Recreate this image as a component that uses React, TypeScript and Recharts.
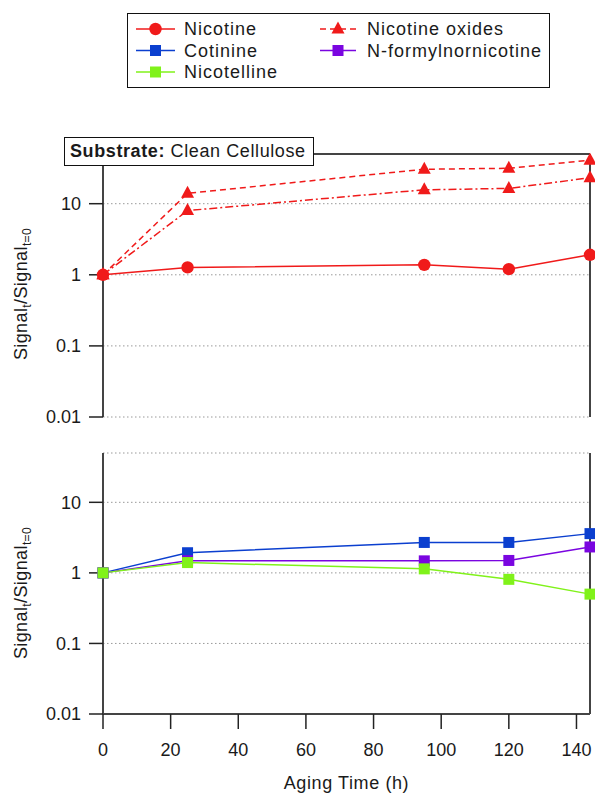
import React from 'react';
import { LineChart, Line, XAxis, YAxis, CartesianGrid, ReferenceLine } from 'recharts';

const FONT = "Arial, 'Liberation Sans', sans-serif";

// ---- data ----
const timeH = [0, 25, 95, 120, 144];
const xTicks = [0, 20, 40, 60, 80, 100, 120, 140];
const yTicks = [0.01, 0.1, 1, 10];

const nicotine = [1, 1.27, 1.38, 1.2, 1.91];
const nicotineOxidesA = [1, 14, 30.5, 31.5, 41];
const nicotineOxidesB = [1, 8, 15.7, 16.4, 23.2];

const cotinine = [1, 1.93, 2.7, 2.7, 3.6];
const nFormylnornicotine = [1, 1.49, 1.48, 1.5, 2.33];
const nicotelline = [1, 1.4, 1.14, 0.81, 0.5];

const topData = timeH.map((t, i) => ({
  t,
  nicotine: nicotine[i],
  oxA: nicotineOxidesA[i],
  oxB: nicotineOxidesB[i],
}));
const bottomData = timeH.map((t, i) => ({
  t,
  cotinine: cotinine[i],
  nfn: nFormylnornicotine[i],
  nicotelline: nicotelline[i],
}));

const RED = '#f01a1a';
const BLUE = '#0b3fcf';
const PURPLE = '#7a05e0';
const GREEN = '#80f21a';
const AXIS = '#444';
const TEXT = '#1a1a1a';

const legendItems = [
  { name: 'Nicotine', color: RED, shape: 'circle', dash: undefined as string | undefined, col: 0, row: 0 },
  { name: 'Nicotine oxides', color: RED, shape: 'triangle', dash: '6 4', col: 1, row: 0 },
  { name: 'Cotinine', color: BLUE, shape: 'square', dash: undefined, col: 0, row: 1 },
  { name: 'N-formylnornicotine', color: PURPLE, shape: 'square', dash: undefined, col: 1, row: 1 },
  { name: 'Nicotelline', color: GREEN, shape: 'square', dash: undefined, col: 0, row: 2 },
];

// ---- markers ----
const Marker = (shape: string, color: string, cx: number, cy: number, key?: any) => {
  if (shape === 'circle') return <circle key={key} cx={cx} cy={cy} r={6.2} fill={color} />;
  if (shape === 'triangle')
    return (
      <path
        key={key}
        d={`M${cx},${cy - 7.5} L${cx + 6.5},${cy + 4.5} L${cx - 6.5},${cy + 4.5} Z`}
        fill={color}
      />
    );
  return <rect key={key} x={cx - 5.5} y={cy - 5.5} width={11} height={11} fill={color} />;
};

const dotFn = (shape: string, color: string) => (props: any) => {
  const { cx, cy, index } = props;
  if (cx == null || cy == null) return <g key={`n${index}`} />;
  return Marker(shape, color, cx, cy, `${shape}-${color}-${index}`);
};

const YLabel = (yCenter: number) => (props: any) => {
  const x = 27;
  const y = yCenter;
  return (
    <text
      transform={`rotate(-90 ${x} ${y})`}
      x={x}
      y={y}
      textAnchor="middle"
      fontSize={18}
      fill={TEXT}
      fontFamily={FONT}
      letterSpacing={0.4}
    >
      Signal
      <tspan dy={4} fontSize={12}>t</tspan>
      <tspan dy={-4}>/Signal</tspan>
      <tspan dy={4} fontSize={12}>t=0</tspan>
    </text>
  );
};

const XLabel = (props: any) => {
  const vb = props.viewBox || { x: 103, width: 487 };
  return (
    <text
      x={vb.x + vb.width / 2}
      y={349}
      textAnchor="middle"
      fontSize={18}
      fill={TEXT}
      fontFamily={FONT}
      letterSpacing={0.6}
    >
      Aging Time (h)
    </text>
  );
};

const tickStyle = { fontSize: 18, fill: TEXT, fontFamily: FONT };

const Legend = () => (
  <div
    style={{
      position: 'absolute',
      left: 127,
      top: 13,
      width: 423,
      height: 75,
      boxSizing: 'border-box',
      border: '1.5px solid #111',
      background: '#fff',
    }}
  >
    <svg width={420} height={72} style={{ position: 'absolute', left: 0, top: 0 }}>
      {legendItems.map((it) => {
        const y = 15 + it.row * 21.5;
        const x0 = it.col === 0 ? 8 : 192;
        const x1 = it.col === 0 ? 47 : 228;
        const mx = (x0 + x1) / 2;
        const tx = it.col === 0 ? 56 : 239;
        return (
          <g key={it.name}>
            <line x1={x0} y1={y} x2={x1} y2={y} stroke={it.color} strokeWidth={1.5} strokeDasharray={it.dash} />
            {Marker(it.shape, it.color, mx, y)}
            <text
              x={tx}
              y={y + 6.3}
              fontSize={18}
              fill={TEXT}
              fontFamily={FONT}
              letterSpacing={1}
            >
              {it.name}
            </text>
          </g>
        );
      })}
    </svg>
  </div>
);

export default function App() {
  return (
    <div style={{ position: 'absolute', left: 0, top: 0, width: 595, height: 794, background: '#fff' }}>
      <Legend />

      {/* top panel */}
      <div style={{ position: 'absolute', left: 0, top: 0 }}>
        <LineChart width={595} height={430} data={topData} margin={{ top: 154, right: 5, left: 0, bottom: 13 }}>
          <CartesianGrid vertical={false} stroke="#999" strokeDasharray="1.5 2.5" />
          <XAxis dataKey="t" type="number" domain={[0, 144]} ticks={xTicks} hide />
          <YAxis
            scale="log"
            type="number"
            domain={[0.01, 50]}
            ticks={yTicks}
            width={103}
            tickSize={14}
            tickMargin={8}
            tick={tickStyle}
            tickFormatter={(v: number) => String(v)}
            axisLine={{ stroke: AXIS, strokeWidth: 2 }}
            tickLine={{ stroke: '#222', strokeWidth: 1.5 }}
            label={{ content: YLabel(294) }}
          />
          <ReferenceLine x={144} stroke={AXIS} strokeWidth={2} />
          <ReferenceLine y={50} stroke={AXIS} strokeWidth={2} />
          <Line dataKey="oxA" stroke={RED} strokeWidth={1.5} strokeDasharray="6 4" dot={dotFn('triangle', RED)} isAnimationActive={false} />
          <Line dataKey="oxB" stroke={RED} strokeWidth={1.5} strokeDasharray="8 3 2 3" dot={dotFn('triangle', RED)} isAnimationActive={false} />
          <Line dataKey="nicotine" stroke={RED} strokeWidth={1.5} dot={dotFn('circle', RED)} isAnimationActive={false} />
        </LineChart>
      </div>

      {/* substrate box */}
      <div
        style={{
          position: 'absolute',
          left: 64,
          top: 137,
          width: 250,
          height: 29,
          boxSizing: 'border-box',
          border: '1.5px solid #111',
          background: '#fff',
          fontFamily: FONT,
          fontSize: 18,
          color: TEXT,
          lineHeight: '26px',
          paddingLeft: 5,
          letterSpacing: 0.6,
          whiteSpace: 'nowrap',
        }}
      >
        <b>Substrate:</b> Clean Cellulose
      </div>

      {/* bottom panel */}
      <div style={{ position: 'absolute', left: 0, top: 440 }}>
        <LineChart width={595} height={354} data={bottomData} margin={{ top: 13, right: 5, left: 0, bottom: 10 }}>
          <CartesianGrid vertical={false} stroke="#999" strokeDasharray="1.5 2.5" />
          <XAxis
            dataKey="t"
            type="number"
            domain={[0, 144]}
            ticks={xTicks}
            height={70}
            tickSize={15}
            tickMargin={14}
            tick={tickStyle}
            axisLine={{ stroke: AXIS, strokeWidth: 2 }}
            tickLine={{ stroke: '#222', strokeWidth: 1.5 }}
            label={{ content: XLabel }}
          />
          <YAxis
            scale="log"
            type="number"
            domain={[0.01, 50]}
            ticks={yTicks}
            width={103}
            tickSize={14}
            tickMargin={8}
            tick={tickStyle}
            tickFormatter={(v: number) => String(v)}
            axisLine={{ stroke: AXIS, strokeWidth: 2 }}
            tickLine={{ stroke: '#222', strokeWidth: 1.5 }}
            label={{ content: YLabel(153) }}
          />
          <ReferenceLine x={144} stroke={AXIS} strokeWidth={2} />
          <Line dataKey="cotinine" stroke={BLUE} strokeWidth={1.5} dot={dotFn('square', BLUE)} isAnimationActive={false} />
          <Line dataKey="nfn" stroke={PURPLE} strokeWidth={1.5} dot={dotFn('square', PURPLE)} isAnimationActive={false} />
          <Line dataKey="nicotelline" stroke={GREEN} strokeWidth={1.5} dot={dotFn('square', GREEN)} isAnimationActive={false} />
        </LineChart>
      </div>
    </div>
  );
}
